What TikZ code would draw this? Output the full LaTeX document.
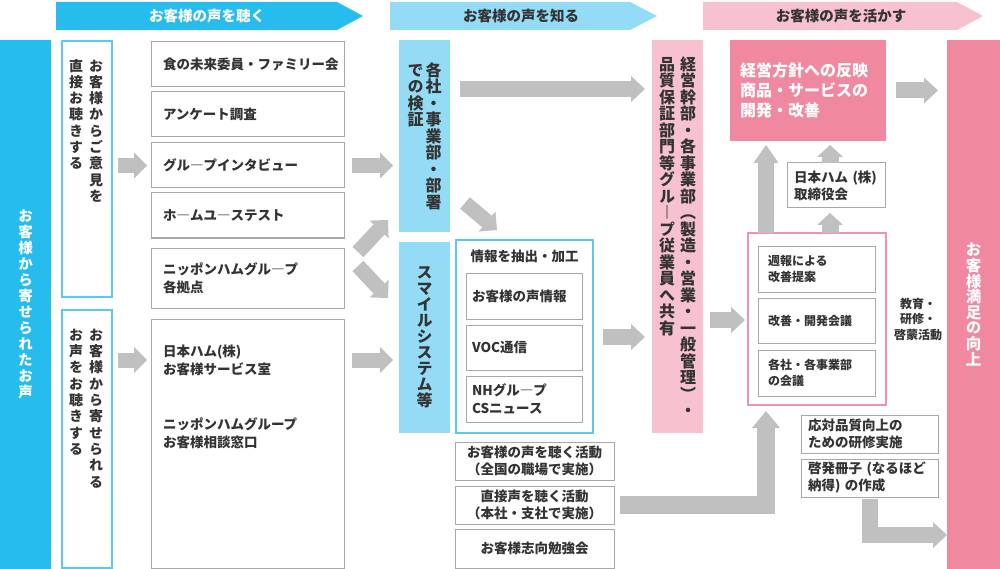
\documentclass[tikz,border=0pt]{standalone}
\usepackage{fontspec}
\setmainfont{Noto Sans CJK JP}
\newfontfamily\vfont{Noto Sans CJK JP}[RawFeature=+vert]
\usetikzlibrary{arrows.meta,calc}
\definecolor{blueA}{RGB}{38,188,238}
\definecolor{blueB}{RGB}{148,220,246}
\definecolor{blueLine}{RGB}{92,200,236}
\definecolor{pinkA}{RGB}{240,137,160}
\definecolor{pinkB}{RGB}{248,193,207}
\definecolor{pinkLine}{RGB}{236,150,172}
\definecolor{agray}{RGB}{192,192,192}
\definecolor{bgray}{RGB}{168,168,168}
\definecolor{txt}{RGB}{51,51,51}
\makeatletter
\newcommand\vcol[2]{\vtop{\baselineskip=#1\relax\lineskiplimit=-\maxdimen\lineskip=0pt\vfont\bfseries\vst@ck#2\@nil}}
\def\vst@ck#1{\ifx\@nil#1\else\hbox to 1em{\hss#1\hss}\expandafter\vst@ck\fi}
\makeatother
\tikzset{
  pos/.style n args={4}{anchor=north west, at={(#1,#2)}, minimum width={(#3-#1)*1pt}, minimum height={(#4-#2)*1pt}},
  bx/.style={draw=bgray, line width=1pt, fill=white},
  bluebox/.style={draw=blueLine, line width=1.3pt, fill=white},
  f135/.style={font=\bfseries\fontsize{13.5}{18}\selectfont},
  f12/.style={font=\bfseries\fontsize{12}{16}\selectfont},
  bannertext/.style={font=\bfseries\fontsize{14.5}{16}\selectfont},
  vt14/.style={font=\bfseries\fontsize{14}{16}\selectfont},
  vt16/.style={font=\bfseries\fontsize{16}{17}\selectfont},
  lt/.style={f135, align=left, text width=169pt, inner xsep=12pt},
  barrow/.style={draw=agray, line width=15pt, line join=miter, -{Triangle[width=26pt,length=13pt,line width=0pt]}},
  barrowL/.style={draw=agray, line width=18pt, line join=miter, -{Triangle[width=28pt,length=17pt,line width=0pt]}},
  barrowU/.style={draw=agray, line width=16pt, line join=miter, -{Triangle[width=25pt,length=18pt,line width=0pt]}},
  barrowS/.style={draw=agray, line width=17pt, line join=miter, -{Triangle[width=26pt,length=12pt,line width=0pt]}},
  barrowH/.style={draw=agray, line width=16pt, line join=miter, -{Triangle[width=26pt,length=14pt,line width=0pt]}},
}
\begin{document}
\begin{tikzpicture}[x=1pt,y=-1pt, every node/.style={inner sep=0pt, outer sep=0pt, text=txt}]
\fill[white] (0,0) rectangle (1000,569);
\useasboundingbox (0,0) rectangle (1000,569);
% banners
\fill[blueA] (56,2) -- (337,2) -- (363,16) -- (337,30) -- (56,30) -- cycle;
\node[bannertext, text=white] (h1) at (207,16) {お客様の声を聴く};
\fill[blueB] (390,2) -- (630,2) -- (657,16) -- (630,30) -- (390,30) -- cycle;
\node[bannertext] (h2) at (521,16) {お客様の声を知る};
\fill[pinkB] (703,2) -- (957,2) -- (983,16) -- (957,30) -- (703,30) -- cycle;
\node[bannertext] (h3) at (841,16) {お客様の声を活かす};
% left
\node[fill=blueA, pos={0}{40}{51}{569}, vt14, text=white, font=\bfseries\fontsize{14.5}{16}\selectfont] (lbar) {\vcol{16pt}{お客様から寄せられたお声}};
\node[bluebox, pos={62}{41}{112}{297}] (la) {};
\node[vt14, anchor=north] (lat) at (86,59) {\vcol{16.3pt}{直接お聴きする}\hspace{6pt}\vcol{16.3pt}{お客様からご意見を}};
\node[bluebox, pos={62}{310}{112}{568}] (lb) {};
\node[vt14, anchor=north] (lbt) at (86,329) {\vcol{16.3pt}{お声をお聴きする}\hspace{6pt}\vcol{16.3pt}{お客様から寄せられる}};
% listen boxes
\node[bx, lt, pos={151}{42}{344}{87}] (g1) {食の未来委員・ファミリー会};
\node[bx, lt, pos={151}{92}{344}{137}] (g2) {アンケート調査};
\node[bx, lt, pos={151}{143}{344}{188}] (g3) {グル―プインタビュー};
\node[bx, lt, pos={151}{193}{344}{238}] (g4) {ホ―ムユ―ステスト};
\node[bx, lt, pos={151}{248}{344}{308}] (g5) {ニッポンハムグル―プ\\各拠点};
\node[bx, pos={151}{319}{344}{568}] (g6) {};
\node[lt, anchor=north west] (g6t) at ($(g6.north west)+(0,26)$) {日本ハム(株)\\お客様サービス室\\[37pt]ニッポンハムグループ\\お客様相談窓口};
% know column
\node[fill=blueB, pos={399}{40}{450}{232}, vt16] (k1) {\vcol{16.5pt}{での検証}\hspace{2pt}\vcol{16.5pt}{各社・事業部・部署}};
\node[fill=blueB, pos={399}{242}{450}{433}, vt16] (k2) {\vcol{16pt}{スマイルシステム等}};
\node[bluebox, pos={456}{240}{593}{433}] (info) {};
\node[f135] (infot) at (524.5,256) {情報を抽出・加工};
\node[bx, f135, align=left, text width=104pt, inner xsep=6pt, pos={466}{273}{582}{319}] (i1) {お客様の声情報};
\node[bx, f135, align=left, text width=104pt, inner xsep=6pt, pos={466}{325}{582}{370}] (i2) {VOC通信};
\node[bx, f135, align=left, text width=104pt, inner xsep=6pt, pos={466}{376}{582}{422}] (i3) {NHグル―プ\\CSニュース};
\node[bx, f135, align=center, font=\bfseries\fontsize{13.5}{17}\selectfont, pos={455}{442}{614}{480}] (d1) {お客様の声を聴く活動\\（全国の職場で実施）};
\node[bx, f135, align=center, font=\bfseries\fontsize{13.5}{17}\selectfont, pos={455}{486}{614}{524}] (d2) {直接声を聴く活動\\（本社・支社で実施）};
\node[bx, f135, align=center, pos={455}{529}{614}{568}] (d3) {お客様志向勉強会};
% share column
\node[fill=pinkB, pos={652}{40}{703}{433}, vt16] (pcol) {\vcol{16.5pt}{品質保証部門等グル―プ従業員へ共有}\hspace{5pt}\vcol{16.5pt}{経営幹部・各事業部（製造・営業・一般管理）・}};
% use column
\node[fill=pinkA, pos={730}{40}{886}{141}, align=left, text width=136pt, inner xsep=10pt, text=white, font=\bfseries\fontsize{16}{20}\selectfont] (mgmt) {経営方針への反映\\商品・サービスの\\開発・改善};
\node[bx, pos={787}{163}{885}{208}, align=left, text width=84pt, inner xsep=7pt, font=\bfseries\fontsize{13.5}{17}\selectfont] (board) {日本ハム (株)\\取締役会};
\node[draw=pinkLine, line width=1.2pt, fill=white, pos={748}{233}{886}{405}] (edu) {};
\node[bx, f12, align=left, text width=97pt, inner xsep=10pt, pos={758}{246}{875}{292}] (e1) {週報による\\改善提案};
\node[bx, f12, align=left, text width=97pt, inner xsep=10pt, pos={758}{298}{875}{343}] (e2) {改善・開発会議};
\node[bx, f12, align=left, text width=97pt, inner xsep=10pt, pos={758}{350}{875}{396}] (e3) {各社・各事業部\\の会議};
\node[align=center, font=\bfseries\fontsize{12}{15.5}\selectfont] (edul) at (918,319) {教育・\\研修・\\啓蒙活動};
\node[bx, align=left, text width=123pt, inner xsep=7pt, font=\bfseries\fontsize{13.5}{17}\selectfont, pos={801}{415}{938}{453}] (r1) {応対品質向上の\\ための研修実施};
\node[bx, align=left, text width=123pt, inner xsep=7pt, font=\bfseries\fontsize{13.5}{17}\selectfont, pos={801}{459}{938}{497}] (r2) {啓発冊子 (なるほど\\納得) の作成};
\node[fill=pinkA, pos={947}{40}{1000}{569}, text=white, font=\bfseries\fontsize{15.5}{16}\selectfont] (rbar) {\vcol{15.6pt}{お客様満足の向上}};
% helper coordinates
\coordinate (y360) at (0,360);
\coordinate (y89) at (0,89);
\coordinate (y337) at (0,337);
\coordinate (y320) at (0,320);
\coordinate (y535) at (0,535);
\coordinate (cx) at (766,0);
% arrows
\draw[barrow] ($(la.east|-g3.west)+(6,0)$) -- ($(g3.west)+(-4,0)$);
\draw[barrow] ($(lb.east|-y360)+(6,0)$) -- ($(g6.west|-y360)+(-4,0)$);
\draw[barrow] ($(g3.east)+(8,0)$) -- ($(k1.west|-g3.east)+(-6,0)$);
\draw[barrow] ($(g6.east|-y360)+(8,0)$) -- ($(k2.west|-y360)+(-6,0)$);
\draw[barrow] ($(g5.north east)+(14,4)$) -- ($(k1.south west)+(-11,-12)$);
\draw[barrow] ($(g5.north east)+(14,18)$) -- ($(k2.north west)+(-11,56)$);
\draw[barrowH] ($(k1.east|-y89)+(10,0)$) -- ($(pcol.west|-y89)+(-7,0)$);
\draw[barrow] ($(k1.south east)+(15,-29)$) -- ($(info.north west)+(41,-10)$);
\draw[barrowH] ($(info.east|-y337)+(10,0)$) -- ($(pcol.west|-y337)+(-7,0)$);
\draw[barrowH] ($(pcol.east|-y320)+(7,0)$) -- ($(edu.west|-y320)+(-3,0)$);
\draw[barrowL] ($(d2.east)+(6,0)$) -| ($(edu.south-|cx)+(0,6)$);
\draw[barrowU] (edu.north-|cx) -- ($(mgmt.south-|cx)+(0,4)$);
\draw[barrowS] ($(board.north)+(-6,0)$) -- ($(board.north|-mgmt.south)+(-6,4)$);
\draw[barrowS] ($(edu.north-|board.north)+(-6,0)$) -- ($(board.south)+(-6,5)$);
\draw[barrowH] ($(mgmt.east)+(10,0)$) -- ($(rbar.west|-mgmt.east)+(-9,0)$);
\draw[barrowH] ($(r2.south)+(0,2)$) |- (rbar.west|-y535);
\end{tikzpicture}
\end{document}
